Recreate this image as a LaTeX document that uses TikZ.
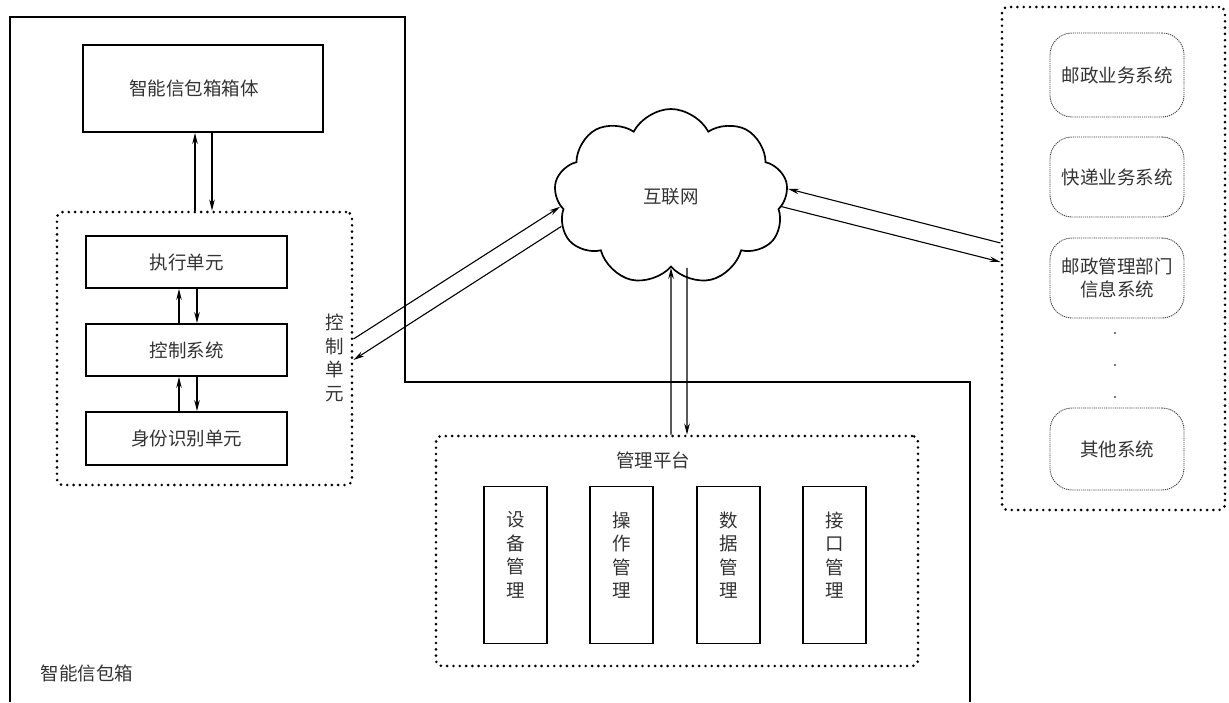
\documentclass[tikz,border=0pt]{standalone}
\usepackage{fontspec}
\setmainfont{Noto Sans CJK SC}
\usetikzlibrary{arrows.meta,shapes.symbols}
\begin{document}
\begin{tikzpicture}[x=1pt,y=-1pt,
  every node/.style={font=\fontsize{18.5pt}{23.5pt}\selectfont, text=black!80},
  solidbox/.style={draw=black, line width=1.8pt, inner sep=0pt},
  dotbox/.style={draw=black, line width=2.9pt, dash pattern=on 0pt off 6.3pt, line cap=round, rounded corners=6pt, inner sep=0pt},
  sysbox/.style={draw=black!75, line width=0.9pt, dash pattern=on 1.2pt off 0.9pt, rounded corners=22pt, inner sep=0pt, minimum width=134pt, align=center},
  vlabel/.style={align=center, inner sep=0pt},
  arr/.style={line width=1.1pt, -{Stealth[length=11pt,width=5.5pt]}},
  ]
\useasboundingbox (0,0) rectangle (1229,702);
% outer housing
\draw[line width=1.8pt] (10,702) -- (10,17) -- (405,17) -- (405,382) -- (970,382) -- (970,702);
\node (boxlabel) at (87,673) {智能信包箱};
% left part
\node[solidbox, minimum width=240pt, minimum height=87pt] (body) at (203,88.5) {智能信包箱箱体\hspace*{18pt}};
\node[dotbox, minimum width=295pt, minimum height=273pt] (ctrl) at (204.5,348.5) {};
\node[solidbox, minimum width=201pt, minimum height=52pt] (exec) at (186.5,262) {执行单元};
\node[solidbox, minimum width=201pt, minimum height=52pt] (csys) at (186.5,350) {控制系统};
\node[solidbox, minimum width=201pt, minimum height=53pt] (ident) at (186.5,438.5) {身份识别单元};
\node[vlabel] (ctrllabel) at (335,358) {控\\制\\单\\元};
\draw[arr] ([xshift=-9.5pt]ctrl.north) -- ([xshift=-8pt]body.south);
\draw[arr] ([xshift=9pt]body.south) -- ([xshift=7.5pt]ctrl.north);
\draw[arr] ([xshift=-7.5pt]csys.north) -- ([xshift=-7.5pt]exec.south);
\draw[arr] ([xshift=10.5pt]exec.south) -- ([xshift=10.5pt]csys.north);
\draw[arr] ([xshift=-7.5pt]ident.north) -- ([xshift=-7.5pt]csys.south);
\draw[arr] ([xshift=10.5pt]csys.south) -- ([xshift=10.5pt]ident.north);
% cloud
\node[cloud, draw=black, line width=1.7pt, cloud puffs=9, cloud puff arc=125, cloud ignores aspect, minimum width=234pt, minimum height=176pt, inner sep=0pt] (net) at (671,197) {互联网};
% management platform
\node[dotbox, minimum width=482pt, minimum height=230pt] (mgmt) at (677,551) {};
\node (mtitle) at (653,460) {管理平台};
\node[solidbox, minimum width=63pt, minimum height=157pt] (m1) at (515.5,565) {};
\node[solidbox, minimum width=63pt, minimum height=157pt] (m2) at (621.5,565) {};
\node[solidbox, minimum width=63pt, minimum height=157pt] (m3) at (728.5,565) {};
\node[solidbox, minimum width=63pt, minimum height=157pt] (m4) at (834.5,565) {};
\node[vlabel] (m1t) at (515.5,555) {设\\备\\管\\理};
\node[vlabel] (m2t) at (621.5,555) {操\\作\\管\\理};
\node[vlabel] (m3t) at (728.5,555) {数\\据\\管\\理};
\node[vlabel] (m4t) at (834.5,555) {接\\口\\管\\理};
% external systems
\node[dotbox, minimum width=223pt, minimum height=503pt] (sys) at (1113.5,258.5) {};
\node[sysbox, minimum height=84pt] (s1) at (1117,75) {邮政业务系统};
\node[sysbox, minimum height=80pt] (s2) at (1117,177) {快递业务系统};
\node[sysbox, minimum height=80pt] (s3) at (1117,278) {邮政管理部门\\信息系统};
\node[sysbox, minimum height=82pt] (s4) at (1117,449) {其他系统};
\fill[black!70] (1115,333) circle (1.1pt) (1115,365) circle (1.1pt) (1115,397) circle (1.1pt);
% connectors to internet
\draw[arr] ([yshift=9.5pt]ctrl.east) -- (net.185);
\draw[arr] (net.195) -- ([yshift=-11.5pt]ctrl.east);
\draw[arr] ([yshift=15.5pt]sys.west) -- (net.4);
\draw[arr] (net.355) -- ([yshift=-3.5pt]sys.west);
\draw[arr] ([xshift=-6pt]mgmt.north) -- (net.270);
\draw[arr] ([xshift=16pt]net.270) -- ([xshift=10pt]mgmt.north);
\end{tikzpicture}
\end{document}
